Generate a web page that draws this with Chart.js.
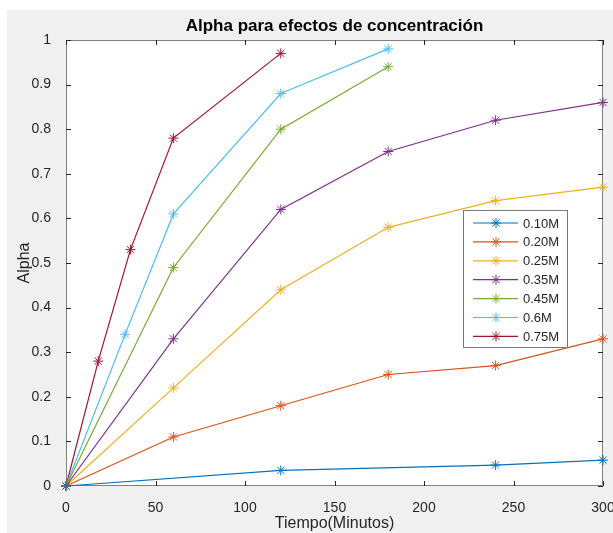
<!DOCTYPE html>
<html lang="es">
<head>
<meta charset="UTF-8">
<title>Alpha para efectos de concentración</title>
<script src="https://cdn.jsdelivr.net/npm/chart.js"></script>
<style>
  html, body { margin: 0; padding: 0; background: #fff; }
  #wrap { width: 613px; height: 533px; }
</style>
</head>
<body>
<div id="wrap"><canvas id="grafico"></canvas></div>
<script>
// datos
const series = ['0.10M', '0.20M', '0.25M', '0.35M', '0.45M', '0.6M', '0.75M'];
const colores = ['#0072BD', '#D95319', '#EDB120', '#7E2F8E', '#77AC30', '#4DBEEE', '#A2142F'];

const t010 = [0, 120, 240, 300];
const a010 = [0, 0.035, 0.047, 0.058];
const t020 = [0, 60, 120, 180, 240, 300];
const a020 = [0, 0.11, 0.18, 0.25, 0.27, 0.33];
const t025 = [0, 60, 120, 180, 240, 300];
const a025 = [0, 0.22, 0.44, 0.58, 0.64, 0.67];
const t035 = [0, 60, 120, 180, 240, 300];
const a035 = [0, 0.33, 0.62, 0.75, 0.82, 0.86];
const t045 = [0, 60, 120, 180];
const a045 = [0, 0.49, 0.80, 0.94];
const t060 = [0, 33, 60, 120, 180];
const a060 = [0, 0.34, 0.61, 0.88, 0.98];
const t075 = [0, 18, 36, 60, 120];
const a075 = [0, 0.28, 0.53, 0.78, 0.97];

const tiempos = [t010, t020, t025, t035, t045, t060, t075];
const alphas = [a010, a020, a025, a035, a045, a060, a075];

const xTicks = [0, 50, 100, 150, 200, 250, 300];
const yTicks = [0, 0.1, 0.2, 0.3, 0.4, 0.5, 0.6, 0.7, 0.8, 0.9, 1];

const fuente = '"Liberation Sans", Arial, Helvetica, sans-serif';
const ejeColor = '#262626';

let datasets = [];
for (let i = 0; i < series.length; i++) {
  let pts = [];
  for (let j = 0; j < tiempos[i].length; j++) {
    pts.push({ x: tiempos[i][j], y: alphas[i][j] });
  }
  datasets.push({
    label: series[i],
    data: pts,
    borderColor: colores[i],
    backgroundColor: colores[i],
    borderWidth: 1.2,
    pointStyle: 'star',
    pointRadius: 5,
    pointBorderWidth: 1,
    pointHoverRadius: 5,
    tension: 0,
    fill: false,
    clip: false
  });
}

// fondo gris y area blanca
const fondo = {
  id: 'fondo',
  beforeDraw(chart) {
    const ctx = chart.ctx;
    const a = chart.chartArea;
    ctx.save();
    ctx.fillStyle = '#f0f0f0';
    ctx.fillRect(7, 10, chart.width - 7, chart.height - 10);
    ctx.fillStyle = '#ffffff';
    ctx.fillRect(a.left, a.top, a.right - a.left, a.bottom - a.top);
    ctx.restore();
  }
};

// caja y marcas hacia adentro, estilo matlab
const caja = {
  id: 'caja',
  beforeDatasetsDraw(chart) {
    const ctx = chart.ctx;
    const a = chart.chartArea;
    const sx = chart.scales.x, sy = chart.scales.y;
    const len = 5;
    ctx.save();
    ctx.strokeStyle = '#808080';
    ctx.lineWidth = 1;
    ctx.beginPath();
    ctx.rect(a.left + 0.5, a.top + 0.5, a.right - a.left - 1, a.bottom - a.top - 1);
    ctx.stroke();
    ctx.strokeStyle = ejeColor;
    ctx.beginPath();
    xTicks.forEach(v => {
      const px = Math.round(sx.getPixelForValue(v)) + 0.5;
      ctx.moveTo(px, a.bottom); ctx.lineTo(px, a.bottom - len);
      ctx.moveTo(px, a.top); ctx.lineTo(px, a.top + len);
    });
    yTicks.forEach(v => {
      const py = Math.round(sy.getPixelForValue(v)) + 0.5;
      ctx.moveTo(a.left, py); ctx.lineTo(a.left + len, py);
      ctx.moveTo(a.right, py); ctx.lineTo(a.right - len, py);
    });
    ctx.stroke();
    ctx.restore();
  }
};

// leyenda dentro del area del grafico
const leyenda = {
  id: 'leyenda',
  afterDatasetsDraw(chart) {
    const ctx = chart.ctx;
    const x0 = 463, y0 = 210, w = 104, h = 137;
    const paso = 18.9;
    ctx.save();
    ctx.fillStyle = '#ffffff';
    ctx.fillRect(x0, y0, w, h);
    ctx.strokeStyle = '#7a7a7a';
    ctx.lineWidth = 1;
    ctx.strokeRect(x0 + 0.5, y0 + 0.5, w, h);
    ctx.font = '13px ' + fuente;
    ctx.textBaseline = 'middle';
    ctx.textAlign = 'left';
    chart.data.datasets.forEach((ds, i) => {
      const y = y0 + 13 + i * paso;
      ctx.strokeStyle = ds.borderColor;
      ctx.lineWidth = 1.2;
      ctx.beginPath();
      ctx.moveTo(473, y); ctx.lineTo(518, y);
      ctx.stroke();
      ctx.lineWidth = 1;
      Chart.helpers.drawPoint(ctx, { pointStyle: 'star', radius: 5, borderWidth: 1 }, 496, y);
      ctx.fillStyle = ejeColor;
      ctx.fillText(ds.label, 523, y + 1);
    });
    ctx.restore();
  }
};

new Chart(document.getElementById('grafico'), {
  type: 'line',
  data: { datasets: datasets },
  options: {
    responsive: true,
    maintainAspectRatio: false,
    animation: false,
    events: [],
    layout: { padding: { left: 0, right: 10, top: 0, bottom: 0 } },
    plugins: {
      legend: { display: false },
      tooltip: { enabled: false },
      title: {
        display: true,
        text: 'Alpha para efectos de concentración',
        fullSize: false,
        color: '#000',
        font: { family: fuente, size: 17, weight: 'bold' },
        padding: { top: 16, bottom: 3.6 }
      }
    },
    scales: {
      x: {
        type: 'linear',
        min: 0, max: 300,
        afterFit(s) { s.height = 47; s.paddingRight = 0; s.paddingLeft = 0; },
        afterBuildTicks(s) { s.ticks = xTicks.map(v => ({ value: v })); },
        grid: { display: false },
        border: { display: false },
        ticks: { color: ejeColor, padding: 6, maxRotation: 0, font: { family: fuente, size: 14 } },
        title: {
          display: true, text: 'Tiempo(Minutos)', color: ejeColor,
          font: { family: fuente, size: 16 }, padding: { top: 0, bottom: 0 }
        }
      },
      y: {
        min: 0, max: 1,
        afterFit(s) { s.width = 66; },
        afterBuildTicks(s) { s.ticks = yTicks.map(v => ({ value: v })); },
        grid: { display: false },
        border: { display: false },
        ticks: {
          color: ejeColor, padding: 7, font: { family: fuente, size: 14 },
          callback: v => String(Math.round(v * 10) / 10)
        },
        title: {
          display: true, text: 'Alpha', color: ejeColor,
          font: { family: fuente, size: 16 }, padding: { top: 15, bottom: 0 }
        }
      }
    }
  },
  plugins: [fondo, caja, leyenda]
});
</script>
</body>
</html>
